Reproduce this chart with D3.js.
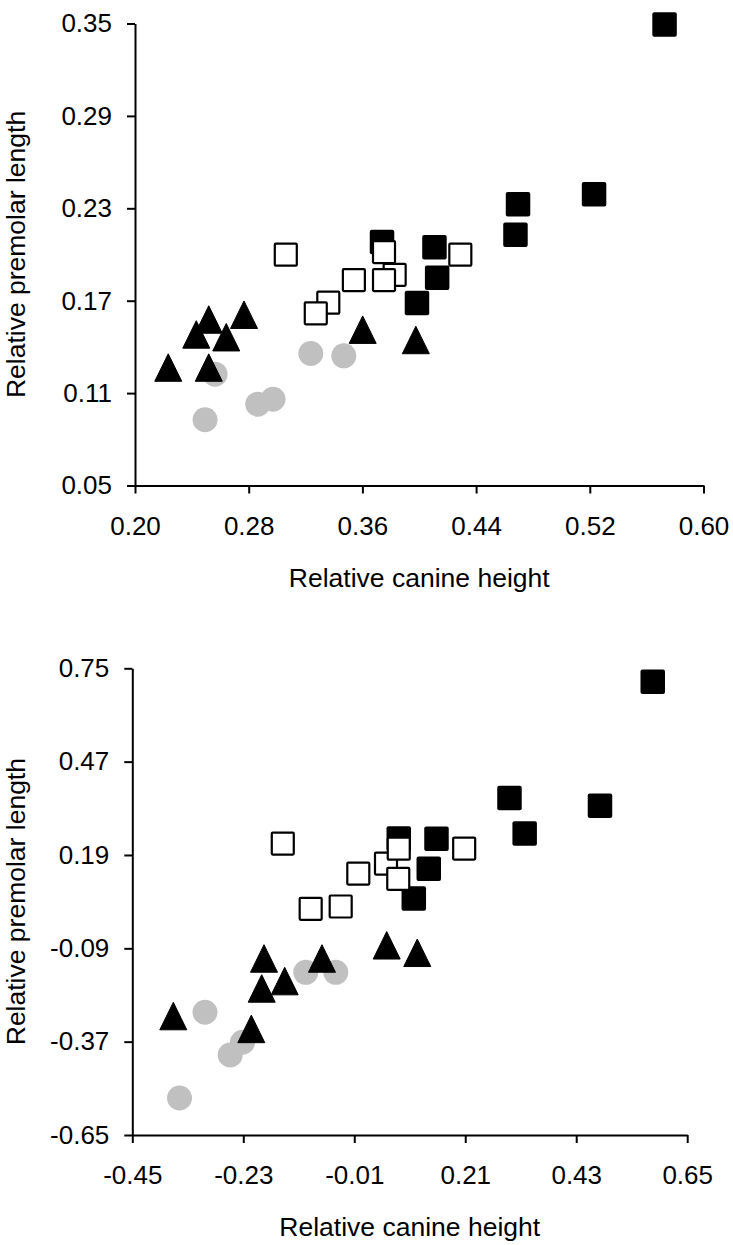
<!DOCTYPE html>
<html>
<head>
<meta charset="utf-8">
<script src="https://cdn.jsdelivr.net/npm/d3@7"></script>
<style>
  body { margin: 0; background: #fff; }
  svg text { font-family: "Liberation Sans", Arial, sans-serif; fill: #000; }
</style>
</head>
<body>
<div id="chart"></div>
<script>
// Top panel: raw values
const topCircles = [[0.2563, 0.1223], [0.2493, 0.0927], [0.2864, 0.1028], [0.2971, 0.1060], [0.3237, 0.1357], [0.3469, 0.1342]];
const topTriangles = [[0.2431, 0.1481], [0.2519, 0.1578], [0.2767, 0.1609], [0.2642, 0.1463], [0.2234, 0.1266], [0.2519, 0.1266], [0.3602, 0.1512], [0.3976, 0.1445]];
const topFilled = [[0.3738, 0.2081], [0.4107, 0.2047], [0.4126, 0.1849], [0.3984, 0.1685], [0.4695, 0.2327], [0.5230, 0.2392], [0.4677, 0.2129], [0.5726, 0.3494]];
const topOpen = [[0.3061, 0.1999], [0.3752, 0.2016], [0.3827, 0.1868], [0.3540, 0.1834], [0.3752, 0.1834], [0.3360, 0.1687], [0.3272, 0.1618], [0.4289, 0.1999]];
const topXTicks = [0.20, 0.28, 0.36, 0.44, 0.52, 0.60];
const topYTicks = [0.05, 0.11, 0.17, 0.23, 0.29, 0.35];

// Bottom panel: residual values
const botCircles = [[-0.1061, -0.1619], [-0.0466, -0.1619], [-0.3059, -0.2818], [-0.2316, -0.3717], [-0.2559, -0.4098], [-0.3564, -0.5390]];
const botTriangles = [[-0.1889, -0.1205], [-0.1935, -0.2104], [-0.1479, -0.1883], [-0.0740, -0.1205], [-0.3687, -0.2932], [-0.2141, -0.3318], [0.0543, -0.0809], [0.1149, -0.1034]];
const botFilled = [[0.0782, 0.2392], [0.1530, 0.2389], [0.1377, 0.1490], [0.1080, 0.0591], [0.2977, 0.3606], [0.3278, 0.2548], [0.4771, 0.3378], [0.5817, 0.7095]];
const botOpen = [[-0.1517, 0.2242], [-0.0020, 0.1343], [0.0529, 0.1643], [0.0782, 0.2089], [0.0772, 0.1184], [0.2079, 0.2092], [-0.0964, 0.0285], [-0.0369, 0.0354]];
const botXTicks = [-0.45, -0.23, -0.01, 0.21, 0.43, 0.65];
const botYTicks = [-0.65, -0.37, -0.09, 0.19, 0.47, 0.75];

const xTitle = 'Relative canine height';
const yTitle = 'Relative premolar length';

// plain hyphen for negatives, like the original
const fmt = d3.formatLocale({ decimal: '.', thousands: ',', grouping: [3], currency: ['', ''], minus: '-' }).format('.2f');

const svg = d3.select('#chart').append('svg')
    .attr('width', 733)
    .attr('height', 1245);

function drawPanel(cfg) {
    const x = d3.scaleLinear().domain(cfg.xDomain).range([cfg.left, cfg.right]);
    const y = d3.scaleLinear().domain(cfg.yDomain).range([cfg.bottom, cfg.top]);
    const g = svg.append('g');

    // axes
    const xAxis = d3.axisBottom(x)
        .tickValues(cfg.xTicks)
        .tickFormat(fmt)
        .tickSize(8)
        .tickSizeOuter(0)
        .tickPadding(23);
    const yAxis = d3.axisLeft(y)
        .tickValues(cfg.yTicks)
        .tickFormat(fmt)
        .tickSize(8)
        .tickSizeOuter(0)
        .tickPadding(15);

    g.append('g')
        .attr('transform', `translate(0,${cfg.bottom})`)
        .call(xAxis);
    g.append('g')
        .attr('transform', `translate(${cfg.left},0)`)
        .call(yAxis);

    g.selectAll('.domain, .tick line')
        .attr('stroke', '#000')
        .attr('stroke-width', 2);
    g.selectAll('.tick text')
        .attr('font-size', 26)
        .attr('font-family', '"Liberation Sans", Arial, sans-serif');

    // titles
    g.append('text')
        .attr('x', (cfg.left + cfg.right) / 2)
        .attr('y', cfg.bottom + 101)
        .attr('text-anchor', 'middle')
        .attr('font-size', 26.5)
        .text(xTitle);
    g.append('text')
        .attr('transform', `translate(25,${(cfg.top + cfg.bottom) / 2}) rotate(-90)`)
        .attr('text-anchor', 'middle')
        .attr('font-size', 26.5)
        .text(yTitle);

    // gray circles
    g.append('g').selectAll('circle')
        .data(cfg.circles)
        .join('circle')
        .attr('cx', d => x(d[0]))
        .attr('cy', d => y(d[1]))
        .attr('r', 12.5)
        .attr('fill', '#c0c0c0');

    // black triangles
    const tw = 27, th = 27.5;
    g.append('g').selectAll('path')
        .data(cfg.triangles)
        .join('path')
        .attr('d', `M0,${-th / 2}L${tw / 2},${th / 2}L${-tw / 2},${th / 2}Z`)
        .attr('transform', d => `translate(${x(d[0])},${y(d[1])})`)
        .attr('fill', '#000')
        .attr('stroke', '#000')
        .attr('stroke-linejoin', 'round')
        .attr('stroke-width', 1);

    // filled squares
    const fs = 24.5;
    g.append('g').selectAll('rect')
        .data(cfg.filled)
        .join('rect')
        .attr('x', d => x(d[0]) - fs / 2)
        .attr('y', d => y(d[1]) - fs / 2)
        .attr('width', fs)
        .attr('height', fs)
        .attr('rx', 2)
        .attr('fill', '#000');

    // open squares
    const os = 22;
    g.append('g').selectAll('rect')
        .data(cfg.open)
        .join('rect')
        .attr('x', d => x(d[0]) - os / 2)
        .attr('y', d => y(d[1]) - os / 2)
        .attr('width', os)
        .attr('height', os)
        .attr('rx', 1)
        .attr('fill', '#fff')
        .attr('stroke', '#000')
        .attr('stroke-width', 2.2);
}

drawPanel({
    xDomain: [0.20, 0.60], yDomain: [0.05, 0.35],
    left: 135, right: 703.5, top: 23.5, bottom: 485.5,
    xTicks: topXTicks, yTicks: topYTicks,
    circles: topCircles, triangles: topTriangles, filled: topFilled, open: topOpen
});

drawPanel({
    xDomain: [-0.45, 0.65], yDomain: [-0.65, 0.75],
    left: 132.3, right: 687.2, top: 668.3, bottom: 1135,
    xTicks: botXTicks, yTicks: botYTicks,
    circles: botCircles, triangles: botTriangles, filled: botFilled, open: botOpen
});
</script>
</body>
</html>
